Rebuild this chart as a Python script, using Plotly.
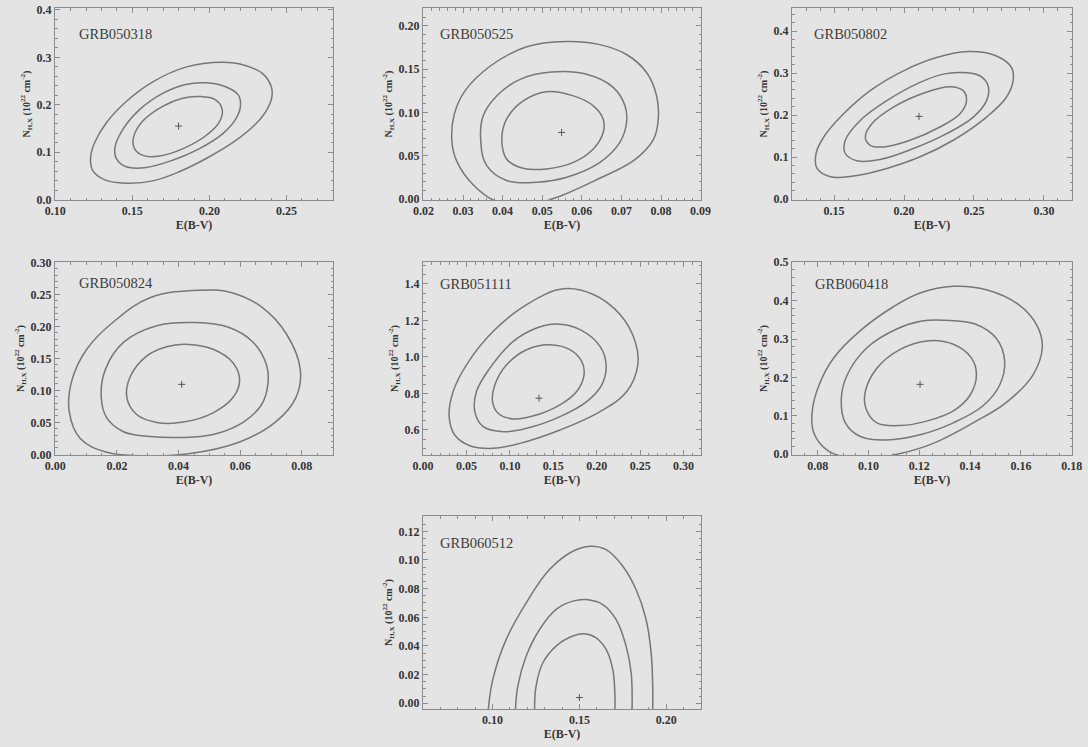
import plotly.graph_objects as go

# ---------------- data ----------------
names = ["GRB050318", "GRB050525", "GRB050802", "GRB050824",
         "GRB051111", "GRB060418", "GRB060512"]

best_x = [0.180, 0.0549, 0.2107, 0.0410, 0.1335, 0.1203, 0.150]
best_y = [0.155, 0.077, 0.197, 0.1094, 0.774, 0.182, 0.004]

x_ranges = [[0.0999, 0.2801], [0.0199, 0.0901], [0.1199, 0.3201], [-0.0001, 0.0901],
            [-0.0001, 0.3201], [0.0699, 0.1801], [0.06, 0.22]]
y_ranges = [[-0.001, 0.404], [-0.001, 0.2207], [-0.002, 0.455], [-0.001, 0.3005],
            [0.463, 1.52], [-0.002, 0.5005], [-0.004, 0.1307]]

x_dtick = [0.05, 0.01, 0.05, 0.02, 0.05, 0.02, 0.05]
x_minor = [0.01, 0.002, 0.01, 0.005, 0.01, 0.005, 0.01]
y_dtick = [0.1, 0.05, 0.1, 0.05, 0.2, 0.1, 0.02]
y_minor = [0.02, 0.01, 0.02, 0.01, 0.05, 0.02, 0.005]
y_fmt = [".1f", ".2f", ".1f", ".2f", ".1f", ".1f", ".2f"]

# confidence contours (inner, middle, outer)
grb050318_c1 = [(0.1933, 0.2172), (0.2040, 0.2103), (0.2083, 0.1897), (0.2062, 0.1621), (0.1976, 0.1345),
                (0.1826, 0.1069), (0.1676, 0.0917), (0.1568, 0.0931), (0.1515, 0.1069), (0.1508, 0.1310),
                (0.1568, 0.1655), (0.1697, 0.1966), (0.1826, 0.2138)]
grb050318_c2 = [(0.1976, 0.2462), (0.2105, 0.2379), (0.2187, 0.2207), (0.2201, 0.1966), (0.2169, 0.1690),
                (0.2083, 0.1379), (0.1933, 0.1069), (0.1761, 0.0828), (0.1590, 0.0676), (0.1461, 0.0690),
                (0.1397, 0.0862), (0.1388, 0.1103), (0.1440, 0.1483), (0.1547, 0.1897), (0.1697, 0.2241),
                (0.1847, 0.2428)]
grb050318_c3 = [(0.2083, 0.2897), (0.2233, 0.2828), (0.2345, 0.2655), (0.2401, 0.2379), (0.2405, 0.2172),
                (0.2373, 0.1897), (0.2298, 0.1586), (0.2169, 0.1241), (0.1997, 0.0897), (0.1804, 0.0586),
                (0.1633, 0.0393), (0.1461, 0.0345), (0.1322, 0.0414), (0.1242, 0.0621), (0.1230, 0.0897),
                (0.1257, 0.1207), (0.1332, 0.1621), (0.1461, 0.2069), (0.1633, 0.2483), (0.1847, 0.2793)]

grb050525_c1 = [(0.0511, 0.1241), (0.0579, 0.1192), (0.0629, 0.1077), (0.0654, 0.0923), (0.0654, 0.0770),
                (0.0629, 0.0579), (0.0579, 0.0425), (0.0511, 0.0349), (0.0452, 0.0356), (0.0410, 0.0464),
                (0.0398, 0.0693), (0.0410, 0.0923), (0.0452, 0.1134)]
grb050525_c2 = [(0.0524, 0.1467), (0.0612, 0.1441), (0.0680, 0.1287), (0.0709, 0.1077), (0.0713, 0.0885),
                (0.0696, 0.0655), (0.0646, 0.0425), (0.0562, 0.0253), (0.0486, 0.0195), (0.0410, 0.0215),
                (0.0360, 0.0387), (0.0345, 0.0655), (0.0351, 0.0962), (0.0385, 0.1192), (0.0444, 0.1383)]
grb050525_c3 = [(0.0560, 0.1820), (0.0640, 0.1790), (0.0713, 0.1670), (0.0764, 0.1460), (0.0789, 0.1190),
                (0.0793, 0.0920), (0.0781, 0.0690), (0.0735, 0.0460), (0.0640, 0.0230), (0.0530, 0.0010),
                (0.0450, -0.0080), (0.0385, -0.0030), (0.0325, 0.0170), (0.0285, 0.0430), (0.0272, 0.0660),
                (0.0278, 0.0980), (0.0305, 0.1250), (0.0370, 0.1540), (0.0461, 0.1760)]

grb050802_c1 = [(0.2328, 0.2677), (0.2423, 0.2583), (0.2447, 0.2346), (0.2400, 0.2031), (0.2257, 0.1717),
                (0.2043, 0.1402), (0.1853, 0.1244), (0.1758, 0.1283), (0.1723, 0.1480), (0.1770, 0.1795),
                (0.1924, 0.2189), (0.2138, 0.2520)]
grb050802_c2 = [(0.2400, 0.3016), (0.2542, 0.2937), (0.2601, 0.2701), (0.2590, 0.2346), (0.2495, 0.1953),
                (0.2305, 0.1559), (0.2067, 0.1205), (0.1829, 0.0945), (0.1663, 0.0913), (0.1580, 0.1087),
                (0.1580, 0.1402), (0.1687, 0.1874), (0.1877, 0.2346), (0.2115, 0.2780), (0.2281, 0.2976)]
grb050802_c3 = [(0.2459, 0.3512), (0.2661, 0.3409), (0.2768, 0.3134), (0.2780, 0.2819), (0.2732, 0.2425),
                (0.2590, 0.1953), (0.2352, 0.1402), (0.2115, 0.1008), (0.1877, 0.0732), (0.1639, 0.0551),
                (0.1473, 0.0535), (0.1378, 0.0732), (0.1371, 0.1087), (0.1426, 0.1480), (0.1568, 0.2031),
                (0.1758, 0.2583), (0.1996, 0.3055), (0.2233, 0.3370)]

grb050824_c1 = [(0.0420, 0.1720), (0.0512, 0.1642), (0.0577, 0.1427), (0.0598, 0.1159), (0.0577, 0.0891),
                (0.0512, 0.0649), (0.0415, 0.0504), (0.0329, 0.0499), (0.0264, 0.0622), (0.0232, 0.0891),
                (0.0243, 0.1212), (0.0296, 0.1534), (0.0361, 0.1680)]
grb050824_c2 = [(0.0455, 0.2060), (0.0560, 0.1990), (0.0640, 0.1760), (0.0685, 0.1400), (0.0690, 0.1105),
                (0.0670, 0.0783), (0.0609, 0.0500), (0.0512, 0.0310), (0.0404, 0.0263), (0.0307, 0.0279),
                (0.0221, 0.0354), (0.0167, 0.0569), (0.0149, 0.0891), (0.0162, 0.1320), (0.0221, 0.1749),
                (0.0329, 0.2010)]
grb050824_c3 = [(0.0469, 0.2565), (0.0570, 0.2530), (0.0670, 0.2300), (0.0750, 0.1880), (0.0795, 0.1320),
                (0.0781, 0.0891), (0.0717, 0.0515), (0.0598, 0.0193), (0.0426, 0.0005), (0.0275, -0.0021),
                (0.0167, 0.0032), (0.0081, 0.0247), (0.0045, 0.0676), (0.0054, 0.1159), (0.0102, 0.1642),
                (0.0189, 0.2071), (0.0307, 0.2446)]

grb051111_c1 = [(0.1462, 1.0670), (0.1692, 1.0396), (0.1827, 0.9755), (0.1854, 0.9022), (0.1769, 0.8106),
                (0.1577, 0.7374), (0.1308, 0.6824), (0.1038, 0.6604), (0.0865, 0.6916), (0.0800, 0.7557),
                (0.0827, 0.8473), (0.0962, 0.9571), (0.1192, 1.0396)]
grb051111_c2 = [(0.1538, 1.1806), (0.1808, 1.1495), (0.2038, 1.0579), (0.2108, 0.9571), (0.2058, 0.8473),
                (0.1885, 0.7557), (0.1577, 0.6733), (0.1192, 0.6092), (0.0923, 0.5908), (0.0692, 0.6183),
                (0.0596, 0.7007), (0.0615, 0.8106), (0.0769, 0.9388), (0.1038, 1.0853), (0.1308, 1.1586)]
grb051111_c3 = [(0.1615, 1.3729), (0.1962, 1.3418), (0.2269, 1.2319), (0.2442, 1.0853), (0.2473, 0.9571),
                (0.2346, 0.8106), (0.2038, 0.7007), (0.1577, 0.6000), (0.1115, 0.5267), (0.0808, 0.4993),
                (0.0538, 0.5139), (0.0365, 0.5725), (0.0300, 0.6733), (0.0346, 0.8106), (0.0500, 0.9571),
                (0.0808, 1.1403), (0.1192, 1.2868)]

grb060418_c1 = [(0.1229, 0.2951), (0.1334, 0.2862), (0.1405, 0.2507), (0.1425, 0.2062), (0.1399, 0.1529),
                (0.1334, 0.1129), (0.1229, 0.0862), (0.1125, 0.0747), (0.1033, 0.0818), (0.0991, 0.1173),
                (0.0987, 0.1618), (0.1033, 0.2240), (0.1125, 0.2729)]
grb060418_c2 = [(0.1300, 0.3490), (0.1420, 0.3390), (0.1505, 0.3000), (0.1536, 0.2418), (0.1516, 0.1796),
                (0.1451, 0.1262), (0.1334, 0.0818), (0.1203, 0.0507), (0.1072, 0.0373), (0.0968, 0.0462),
                (0.0909, 0.0818), (0.0893, 0.1440), (0.0916, 0.2062), (0.0994, 0.2773), (0.1111, 0.3262),
                (0.1210, 0.3470)]
grb060418_c3 = [(0.1334, 0.4373), (0.1464, 0.4284), (0.1590, 0.3900), (0.1665, 0.3330), (0.1684, 0.2773),
                (0.1647, 0.2062), (0.1543, 0.1351), (0.1412, 0.0818), (0.1255, 0.0284), (0.1125, 0.0018),
                (0.0994, -0.0116), (0.0916, -0.0089), (0.0837, 0.0107), (0.0785, 0.0551), (0.0778, 0.1084),
                (0.0805, 0.1796), (0.0863, 0.2507), (0.0968, 0.3218), (0.1098, 0.3840), (0.1203, 0.4196)]

grb060512_c1 = [(0.1242, -0.0065), (0.1251, 0.0121), (0.1290, 0.0283), (0.1366, 0.0399), (0.1462, 0.0469),
                (0.1529, 0.0485), (0.1596, 0.0457), (0.1654, 0.0376), (0.1692, 0.0237), (0.1704, 0.0074),
                (0.1704, -0.0065)]
grb060512_c2 = [(0.1131, -0.0065), (0.1146, 0.0121), (0.1194, 0.0330), (0.1271, 0.0515), (0.1366, 0.0655),
                (0.1462, 0.0713), (0.1539, 0.0724), (0.1635, 0.0689), (0.1711, 0.0585), (0.1769, 0.0399),
                (0.1798, 0.0214), (0.1803, -0.0065)]
grb060512_c3 = [(0.0974, -0.0065), (0.1002, 0.0167), (0.1079, 0.0446), (0.1194, 0.0701), (0.1328, 0.0933),
                (0.1462, 0.1061), (0.1562, 0.1096), (0.1654, 0.1072), (0.1750, 0.0956), (0.1826, 0.0794),
                (0.1884, 0.0585), (0.1913, 0.0353), (0.1922, 0.0121), (0.1922, -0.0065)]

contours = [
    [grb050318_c1, grb050318_c2, grb050318_c3],
    [grb050525_c1, grb050525_c2, grb050525_c3],
    [grb050802_c1, grb050802_c2, grb050802_c3],
    [grb050824_c1, grb050824_c2, grb050824_c3],
    [grb051111_c1, grb051111_c2, grb051111_c3],
    [grb060418_c1, grb060418_c2, grb060418_c3],
    [grb060512_c1, grb060512_c2, grb060512_c3],
]
closed = [True, True, True, True, True, True, False]

# ---------------- layout / style ----------------
W, H = 1088, 747
cols = [(55, 333), (423, 701), (792, 1072)]
rows = [(8, 200), (262, 455), (516, 709)]
pos = [(0, 0), (0, 1), (0, 2), (1, 0), (1, 1), (1, 2), (2, 1)]
label_off = [(22, 26), (15, 26), (20, 26), (22, 21), (15, 22), (21, 22), (15, 27)]

BG = "#e4e4e4"
LINE = "#777777"
AX = "#8c8c8c"
TXT = "#353535"
SERIF = "Liberation Serif"

fig = go.Figure()
layout = dict(
    width=W, height=H, showlegend=False,
    paper_bgcolor=BG, plot_bgcolor=BG,
    margin=dict(l=0, r=0, t=0, b=0, autoexpand=False),
    font=dict(family=SERIF, color=TXT),
    annotations=[],
)

for i in range(7):
    r, c = pos[i]
    x0, x1 = cols[c]
    y0, y1 = rows[r]
    xd = [x0 / W, x1 / W]
    yd = [1 - y1 / H, 1 - y0 / H]
    xa = "xaxis" if i == 0 else f"xaxis{i+1}"
    ya = "yaxis" if i == 0 else f"yaxis{i+1}"
    xr = "x" if i == 0 else f"x{i+1}"
    yr = "y" if i == 0 else f"y{i+1}"

    for pts in contours[i]:
        xs = [p[0] for p in pts]
        ys = [p[1] for p in pts]
        if closed[i]:
            xs = xs + xs[:1]
            ys = ys + ys[:1]
        fig.add_trace(go.Scatter(
            x=xs, y=ys, mode="lines", xaxis=xr, yaxis=yr,
            line=dict(color=LINE, width=1.5, shape="spline", smoothing=1.1),
            hoverinfo="skip"))
    fig.add_trace(go.Scatter(
        x=[best_x[i]], y=[best_y[i]], mode="markers", xaxis=xr, yaxis=yr,
        marker=dict(symbol="cross-thin", size=5, line=dict(color="#555", width=1))))

    tickfont = dict(family=SERIF, size=12, color=TXT, weight="bold")
    layout[xa] = dict(
        domain=xd, anchor=yr, range=x_ranges[i], automargin=False,
        tick0=0, dtick=x_dtick[i], tickformat=".2f",
        ticks="inside", ticklen=5, tickcolor=AX, tickwidth=1,
        minor=dict(ticks="inside", ticklen=2.5, dtick=x_minor[i], tick0=0, tickcolor=AX),
        showline=True, linecolor=AX, linewidth=1, mirror="ticks",
        showgrid=False, zeroline=False, tickfont=tickfont,
        title=dict(text="E(B-V)", font=dict(family=SERIF, size=12, color=TXT, weight="bold"),
                   standoff=2),
    )
    layout[ya] = dict(
        domain=yd, anchor=xr, range=y_ranges[i], automargin=False,
        tick0=0, dtick=y_dtick[i], tickformat=y_fmt[i],
        ticks="inside", ticklen=5, tickcolor=AX, tickwidth=1,
        minor=dict(ticks="inside", ticklen=2.5, dtick=y_minor[i], tick0=0, tickcolor=AX),
        showline=True, linecolor=AX, linewidth=1, mirror="ticks",
        showgrid=False, zeroline=False, tickfont=tickfont,
        title=dict(text="N<sub>H,X</sub> (10<sup>22</sup> cm<sup>-2</sup>)",
                   font=dict(family=SERIF, size=10, color=TXT, weight="bold"),
                   standoff=4),
    )
    dx, dy = label_off[i]
    layout["annotations"].append(dict(
        text=names[i], xref=f"{xr} domain", yref=f"{yr} domain",
        x=dx / (x1 - x0), y=1 - dy / (y1 - y0), xanchor="left", yanchor="middle",
        showarrow=False, font=dict(family=SERIF, size=14.5, color="#3c3c3c")))

fig.update_layout(**layout)
fig.write_html(
    "out.html",
    config={"displayModeBar": False},
    post_script="document.body.style.margin='0px';document.body.style.background='#e4e4e4';",
)
